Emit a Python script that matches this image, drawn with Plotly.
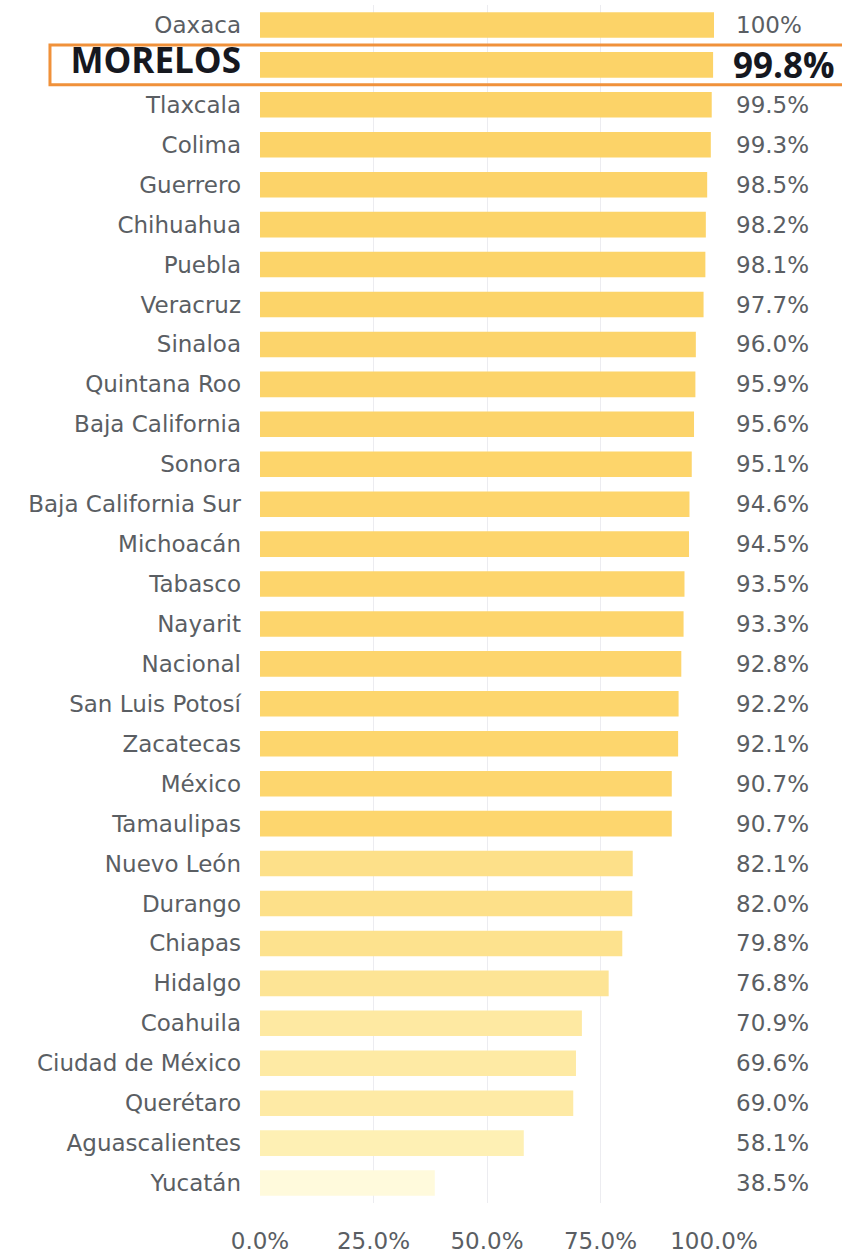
import plotly.graph_objects as go

states = ["Oaxaca", "MORELOS", "Tlaxcala", "Colima", "Guerrero", "Chihuahua", "Puebla",
          "Veracruz", "Sinaloa", "Quintana Roo", "Baja California", "Sonora",
          "Baja California Sur", "Michoacán", "Tabasco", "Nayarit", "Nacional",
          "San Luis Potosí", "Zacatecas", "México", "Tamaulipas", "Nuevo León",
          "Durango", "Chiapas", "Hidalgo", "Coahuila", "Ciudad de México",
          "Querétaro", "Aguascalientes", "Yucatán"]
values = [100, 99.8, 99.5, 99.3, 98.5, 98.2, 98.1, 97.7, 96.0, 95.9, 95.6, 95.1,
          94.6, 94.5, 93.5, 93.3, 92.8, 92.2, 92.1, 90.7, 90.7, 82.1, 82.0, 79.8,
          76.8, 70.9, 69.6, 69.0, 58.1, 38.5]
value_labels = ["100%", "99.8%", "99.5%", "99.3%", "98.5%", "98.2%", "98.1%", "97.7%",
                "96.0%", "95.9%", "95.6%", "95.1%", "94.6%", "94.5%", "93.5%", "93.3%",
                "92.8%", "92.2%", "92.1%", "90.7%", "90.7%", "82.1%", "82.0%", "79.8%",
                "76.8%", "70.9%", "69.6%", "69.0%", "58.1%", "38.5%"]
x_ticks = [0, 25, 50, 75, 100]
x_tick_labels = ["0.0%", "25.0%", "50.0%", "75.0%", "100.0%"]
highlight = "MORELOS"

FONT = "DejaVu Sans"
BOLD_FONT = "Open Sans"
GRAY = "#5a5e63"
DARK = "#16181f"

ticktext = []
for s in states:
    if s == highlight:
        ticktext.append(f"<span style='font-family:\"{BOLD_FONT}\";font-size:35px;color:{DARK}'><b>{s}</b></span>")
    else:
        ticktext.append(s)

fig = go.Figure()
fig.add_trace(go.Bar(
    y=states, x=values, orientation="h",
    marker=dict(
        color=values, cmin=38.5, cmax=100,
        colorscale=[[0, "#FFFADC"], [0.32, "#FEF0B4"], [0.53, "#FEE9A2"],
                    [0.71, "#FDE089"], [0.85, "#FDD66E"], [1, "#FCD368"]],
        line=dict(width=0),
    ),
    hoverinfo="skip",
))

for s, v, lab in zip(states, values, value_labels):
    if s == highlight:
        fig.add_annotation(x=1.038, xref="paper", y=s, yref="y", text=f"<b>{lab}</b>",
                           showarrow=False, xanchor="left",
                           font=dict(family=BOLD_FONT, size=35, color=DARK))
    else:
        fig.add_annotation(x=1.045, xref="paper", y=s, yref="y", text=lab,
                           showarrow=False, xanchor="left",
                           font=dict(family=FONT, size=23, color=GRAY))

idx = states.index(highlight)
fig.add_shape(type="rect", xref="paper", yref="y",
              x0=-0.4626, x1=1.29, y0=idx - 0.5, y1=idx + 0.5,
              line=dict(color="#F0913A", width=3), fillcolor="rgba(0,0,0,0)", layer="above")

fig.update_layout(
    width=842, height=1257,
    margin=dict(l=260, r=128, t=5, b=54, autoexpand=False),
    paper_bgcolor="white", plot_bgcolor="white",
    bargap=0.36,
    showlegend=False,
    font=dict(family=FONT, size=23, color=GRAY),
    xaxis=dict(range=[0, 100], tickvals=x_ticks, ticktext=x_tick_labels,
               showgrid=True, gridcolor="#ececf0", gridwidth=1, zeroline=False,
               showline=False, ticks="", ticklabelstandoff=22, automargin=False,
               tickfont=dict(family=FONT, size=23, color=GRAY)),
    yaxis=dict(autorange="reversed", tickvals=states, ticktext=ticktext,
               showgrid=False, zeroline=False, showline=False, ticks="",
               ticklabelstandoff=18, automargin=False,
               tickfont=dict(family=FONT, size=23, color=GRAY)),
)

fig.write_html("out.html", config={"displayModeBar": False},
               post_script="document.body.style.margin='0px';document.body.style.overflow='hidden';")
